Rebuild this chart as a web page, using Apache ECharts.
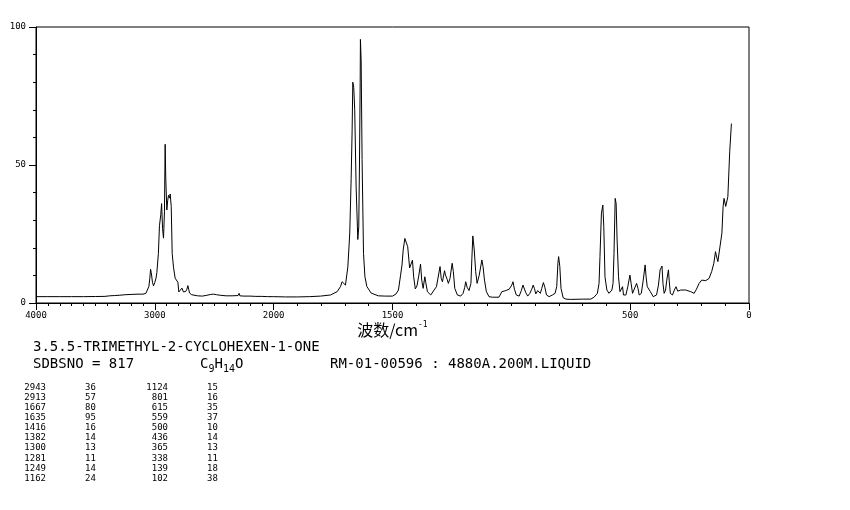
<!DOCTYPE html>
<html><head><meta charset="utf-8">
<script src="https://cdn.jsdelivr.net/npm/echarts@6/dist/echarts.min.js"></script>
<style>html,body{margin:0;padding:0;background:#fff}#c{width:850px;height:510px}</style>
</head><body><div id="c"></div>
<script>
// Raman spectrum: wavenumber (cm-1) and intensity
const wavenumbers = [4000,3900,3800,3700,3600,3500,3420,3380,3340,3300,3250,3200,3150,3100,3075,3060,3050,3042,3036,3030,3020,3011,3000,2990,2983,2970,2961,2950,2943,2935,2927,2919,2915,2913,2908,2899,2892,2885,2876,2871,2862,2854,2843,2829,2815,2806,2798,2785,2772,2759,2740,2730,2722,2715,2708,2690,2674,2640,2600,2562,2530,2506,2480,2450,2400,2350,2300,2291,2285,2250,2200,2150,2100,2050,2000,
1950,1900,1850,1803,1761,1733,1719,1712,1705,1698,1688,1680,1674,1670,1667,1663,1659,1653,1646,1642,1639,1636,1635,1632,1628,1622,1616,1608,1590,1560,1530,1500,1485,1475,1466,1460,1455,1448,1442,1436,1428,1424,1416,1411,1404,1397,1389,1382,1377,1371,1364,1360,1353,1339,1325,1315,1308,1300,1295,1290,1281,1277,1270,1265,1258,1249,1244,1238,1227,1213,1203,1196,1192,1186,1178,1170,1166,1162,1156,1150,1144,1135,1124,1119,1113,1105,1094,1080,1052,1040,1023,1009,998,993,987,979,967,958,951,945,939,931,922,914,908,903,897,889,883,878,872,865,859,852,841,827,816,809,804,801,796,791,782,770,750,700,666,652,638,631,627,621,615,611,606,598,589,577,572,568,563,559,555,549,543,538,532,528,518,510,501,496,490,482,473,467,462,453,445,437,433,428,422,415,403,389,381,374,366,362,357,351,346,339,336,331,322,314,307,300,287,266,245,231,221,210,199,182,168,157,148,141,138,131,123,114,109,105,101,98,93,89,81,74];
const intensities = [2.3,2.3,2.3,2.3,2.3,2.35,2.4,2.6,2.7,2.8,3.0,3.1,3.2,3.2,3.5,4.2,6,9,12.2,11,7.5,6.2,7.5,9,11,18,28,32,36,27,23.5,33,50,57.5,45,33.7,37,39,38,39.5,35,18,13,9,8.7,7.5,4,4.2,5.4,4,4.2,5,6.3,5,3.6,3.0,2.8,2.6,2.5,2.8,3.1,3.2,3.0,2.8,2.6,2.6,2.7,3.5,2.6,2.5,2.5,2.4,2.4,2.3,2.3,
2.2,2.2,2.3,2.5,2.9,4.1,5.9,7.7,7.0,6.5,13,25,45,62,80,78,70,42,23,27.6,50,80,95.5,88,52,18,9.5,6,3.6,2.6,2.5,2.5,3.3,4.7,10.1,13.8,19.2,23.4,22.8,20.4,12.7,12,15.5,9.5,5.1,6.2,10.1,14.1,8.3,5.3,9.5,7.4,4.1,2.9,4.7,5.9,6.5,13.2,8.9,7.7,11.7,10.1,8.6,7.1,8.9,14.4,11.4,5.3,2.9,2.5,3.5,5.7,7.7,5.7,4.5,7.1,16.2,24.3,19.2,11.4,7.1,10.1,15.6,13.2,8.3,4.1,2.3,2.1,2.1,4.1,4.5,5.0,6.5,7.7,5.0,2.9,2.5,4.5,6.5,6.2,3.7,2.5,3.5,5.0,6.5,5.3,3.3,4.5,5.0,3.5,5.3,7.4,5.7,2.9,2.3,2.9,3.5,5.9,14.4,16.8,13.2,5.3,1.9,1.4,1.3,1.4,1.4,2.1,3.5,7.1,16.8,32.5,35.5,27.6,9.5,4.7,3.5,4.7,7.1,18,37.9,36,22.8,9.5,4.1,4.7,5.9,2.9,2.9,5.9,10.1,7.1,3.5,4.1,7.1,5.3,2.9,3.5,8.3,13.8,9.5,5.9,6.5,4.1,2.3,2.9,6.5,12,13.4,7.1,3.5,4.7,8.3,12,8.3,3.5,2.9,4.7,5.9,4.3,4.7,4.7,4.1,3.5,5.0,7.1,8.3,8.1,8.9,11.4,14.4,18.6,17.4,15,15.6,25.3,34.9,37.9,37.3,35,35,38.5,55,65];

const xTickLabels = [4000,3000,2000,1500,500,0];
const yTickLabels = [0,50,100];
const yMinorTicks = [10,20,30,40,60,70,80,90];

const compoundName = '3.5.5-TRIMETHYL-2-CYCLOHEXEN-1-ONE';
const sdbsNo = 'SDBSNO = 817';
const conditions = 'RM-01-00596 : 4880A.200M.LIQUID';
const peakWnLeft = ['2943','2913','1667','1635','1416','1382','1300','1281','1249','1162'];
const peakIntLeft = ['36','57','80','95','16','14','13','11','14','24'];
const peakWnRight = ['1124','801','615','559','500','436','365','338','139','102'];
const peakIntRight = ['15','16','35','37','10','14','13','11','18','38'];

// piecewise wavenumber axis: 4000-2000 compressed, 2000-0 expanded
function toU(w){ return w >= 2000 ? (4000 - w) / 1000 : 2 + (2000 - w) / 500; }
function fromU(u){ return u <= 2 ? 4000 - 1000 * u : 2000 - 500 * (u - 2); }

const majorU = xTickLabels.map(toU);
const minorU = [];
for (let w = 3900; w > 0; w -= 100) {
  if (xTickLabels.indexOf(w) < 0) minorU.push(toU(w));
}
const data = wavenumbers.map((w, i) => [toU(w), intensities[i]]);

const mono = 'DejaVu Sans Mono';
const chart = echarts.init(document.getElementById('c'), null, {renderer: 'canvas'});
const graphics = [];
graphics.push({type:'text', left:33, top:340, style:{text:compoundName, font:'14px "'+mono+'"', fill:'#000'}});
graphics.push({type:'text', left:33, top:357, style:{text:sdbsNo, font:'14px "'+mono+'"', fill:'#000'}});
graphics.push({type:'text', left:200, top:357, style:{text:'{a|C}{s|9}{a|H}{s|14}{a|O}', rich:{a:{font:'14px "'+mono+'"', fill:'#000', verticalAlign:'bottom'}, s:{font:'10px "'+mono+'"', fill:'#000', verticalAlign:'bottom', padding:[0,0,-3,0]}}}});
graphics.push({type:'text', left:330, top:357, style:{text:conditions, font:'14px "'+mono+'"', fill:'#000'}});
for (let i = 0; i < peakWnLeft.length; i++) {
  const y = 383 + i * 10.1;
  graphics.push({type:'text', x:46, y:y, style:{text:peakWnLeft[i], font:'9px "'+mono+'"', fill:'#000', align:'right'}});
  graphics.push({type:'text', x:85, y:y, style:{text:peakIntLeft[i], font:'9px "'+mono+'"', fill:'#000', align:'left'}});
  graphics.push({type:'text', x:168, y:y, style:{text:peakWnRight[i], font:'9px "'+mono+'"', fill:'#000', align:'right'}});
  graphics.push({type:'text', x:207, y:y, style:{text:peakIntRight[i], font:'9px "'+mono+'"', fill:'#000', align:'left'}});
}

chart.setOption({
  animation: false,
  backgroundColor: '#fff',
  grid: {left:36, right:101, top:27, bottom:207, show:true, borderColor:'#000', borderWidth:1, backgroundColor:'transparent'},
  xAxis: [
    {type:'value', min:0, max:6, position:'bottom',
     axisLine:{lineStyle:{color:'#000', width:1}},
     axisTick:{show:true, customValues:majorU, length:7, lineStyle:{color:'#000'}},
     axisLabel:{customValues:majorU, formatter:(v)=>String(Math.round(fromU(v))), color:'#000', fontFamily:mono, fontSize:9, margin:8},
     splitLine:{show:false},
     name:'{a|波数/cm}{b|-1}', nameLocation:'middle', nameGap:18, nameMoveOverlap:false,
     nameTextStyle:{rich:{a:{fontFamily:'Noto Sans CJK SC', fontSize:16, color:'#000', lineHeight:18}, b:{fontFamily:mono, fontSize:8, color:'#000', verticalAlign:'top', lineHeight:18}}}
    },
    {type:'value', min:0, max:6, position:'bottom', offset:0,
     axisLine:{show:false},
     axisTick:{show:true, customValues:minorU, length:3, lineStyle:{color:'#000'}},
     axisLabel:{show:false}, splitLine:{show:false}}
  ],
  yAxis: [
    {type:'value', min:0, max:100, position:'left',
     axisLine:{show:true, lineStyle:{color:'#000', width:1}},
     axisTick:{show:true, customValues:yTickLabels, length:7, lineStyle:{color:'#000'}},
     axisLabel:{customValues:yTickLabels, color:'#000', fontFamily:mono, fontSize:9, margin:10},
     splitLine:{show:false}},
    {type:'value', min:0, max:100, position:'left', offset:0,
     axisLine:{show:false},
     axisTick:{show:true, customValues:yMinorTicks, length:3, lineStyle:{color:'#000'}},
     axisLabel:{show:false}, splitLine:{show:false}}
  ],
  series: [{type:'line', data:data, xAxisIndex:0, yAxisIndex:0, showSymbol:false, symbol:'none',
    lineStyle:{color:'#000', width:1}, silent:true}],
  graphic: graphics
});
</script></body></html>
